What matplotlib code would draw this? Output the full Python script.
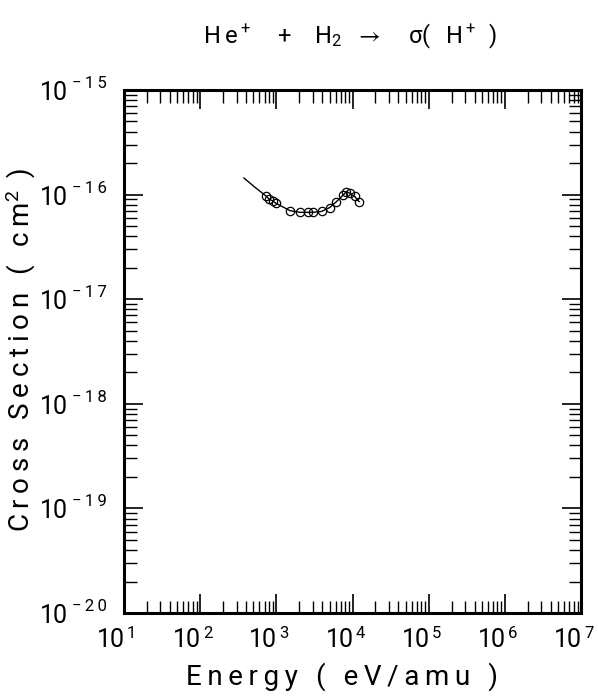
import matplotlib
matplotlib.use("Agg")
import matplotlib.pyplot as plt
import matplotlib.transforms as mtrans
import numpy as np
from matplotlib.ticker import LogLocator, NullFormatter

# data (energy in eV/amu, cross section in cm^2)
line_energy = [376, 520, 731, 810, 891, 988, 1507, 2040, 2570, 3043, 3918,
               5015, 6160, 7530, 8330, 9250, 10700, 12200]
line_sigma = [1.44e-16, 1.18e-16, 9.7e-17, 9.0e-17, 8.75e-17, 8.26e-17, 7.03e-17,
              6.77e-17, 6.77e-17, 6.77e-17, 6.9e-17, 7.52e-17, 8.57e-17, 9.9e-17,
              1.07e-16, 1.03e-16, 9.6e-17, 8.57e-17]

pt_energy = [731, 810, 891, 988, 1507, 2040, 2570, 3043, 3918, 5015, 6160,
             7530, 8330, 9250, 10700, 12200]
pt_sigma = [9.7e-17, 9.0e-17, 8.75e-17, 8.26e-17, 7.03e-17, 6.77e-17, 6.77e-17,
            6.77e-17, 6.9e-17, 7.52e-17, 8.57e-17, 9.9e-17, 1.07e-16, 1.03e-16,
            9.6e-17, 8.57e-17]

x_exps = [1, 2, 3, 4, 5, 6, 7]
y_exps = [-20, -19, -18, -17, -16, -15]

plt.rcParams['font.family'] = ['Roboto', 'DejaVu Sans']
plt.rcParams['mathtext.fontset'] = 'custom'
plt.rcParams['mathtext.rm'] = 'Roboto'
plt.rcParams['mathtext.it'] = 'Roboto'
plt.rcParams['mathtext.default'] = 'regular'


def spaced(s):
    # the reference font has wide letter spacing
    return '\u2009'.join(s)


W, H = 598, 696
fig = plt.figure(figsize=(W / 100, H / 100), dpi=100)
ax = fig.add_axes([124 / W, 1 - 613 / H, (581 - 124) / W, (613 - 90) / H])

ax.plot(line_energy, line_sigma, color='black', lw=1)
ax.plot(pt_energy, pt_sigma, ls='none', marker='o', ms=6, mfc='none',
        mec='black', mew=0.9)

ax.set_xscale('log')
ax.set_yscale('log')
ax.set_xlim(1e1, 1e7)
ax.set_ylim(1e-20, 1e-15)

for s in ax.spines.values():
    s.set_linewidth(2.2)

ax.xaxis.set_major_locator(LogLocator(base=10, numticks=20))
ax.yaxis.set_major_locator(LogLocator(base=10, numticks=20))
ax.xaxis.set_minor_locator(LogLocator(base=10, subs=np.arange(2, 10), numticks=20))
ax.yaxis.set_minor_locator(LogLocator(base=10, subs=np.arange(2, 10), numticks=20))
for a in (ax.xaxis, ax.yaxis):
    a.set_major_formatter(NullFormatter())
    a.set_minor_formatter(NullFormatter())
ax.tick_params(which='major', direction='in', length=14, width=1.2,
               top=True, right=True)
ax.tick_params(which='minor', direction='in', length=9, width=1.0,
               top=True, right=True)

# tick labels: "10" plus a raised exponent, placed in pixels
xt = mtrans.blended_transform_factory(ax.transData, fig.transFigure)
for e in x_exps:
    ax.text(10.0 ** e, 1 - 647 / H, '10', ha='right', va='baseline',
            fontsize=18, transform=mtrans.offset_copy(xt, fig=fig, x=1, units='dots'))
    ax.text(10.0 ** e, 1 - 638 / H, '%d' % e, ha='left', va='baseline', fontsize=12,
            transform=mtrans.offset_copy(xt, fig=fig, x=3, units='dots'))
yt = mtrans.blended_transform_factory(fig.transFigure, ax.transData)
for e in y_exps:
    ax.text(68 / W, 10.0 ** e, '10', ha='right', va='baseline', fontsize=18,
            transform=mtrans.offset_copy(yt, fig=fig, y=-10, units='dots'))
    ax.text(72 / W, 10.0 ** e, spaced('\u2212%d' % -e), ha='left', va='baseline',
            fontsize=12, transform=mtrans.offset_copy(yt, fig=fig, y=2, units='dots'))

fig.text(342 / W, 1 - 685 / H, spaced('Energy ( eV/amu )'), ha='center',
         va='baseline', fontsize=20)
fig.text(21 / W, 1 - 350 / H, spaced('Cross Section ( cm') + r'$^2$' + spaced(' )'),
         ha='center', va='center', rotation=90, fontsize=20)
fig.text(350 / W, 1 - 43 / H,
         spaced('He') + r'$^+$' + '\u2003+\u2003' + spaced('H') + r'$_2$'
         + '\u2002' + r'$\rightarrow$' + '\u2003' + r'$\sigma$'
         + spaced('( H') + r'$^+$' + spaced(' )'),
         ha='center', va='baseline', fontsize=17)

fig.savefig('out.png', dpi=100)
